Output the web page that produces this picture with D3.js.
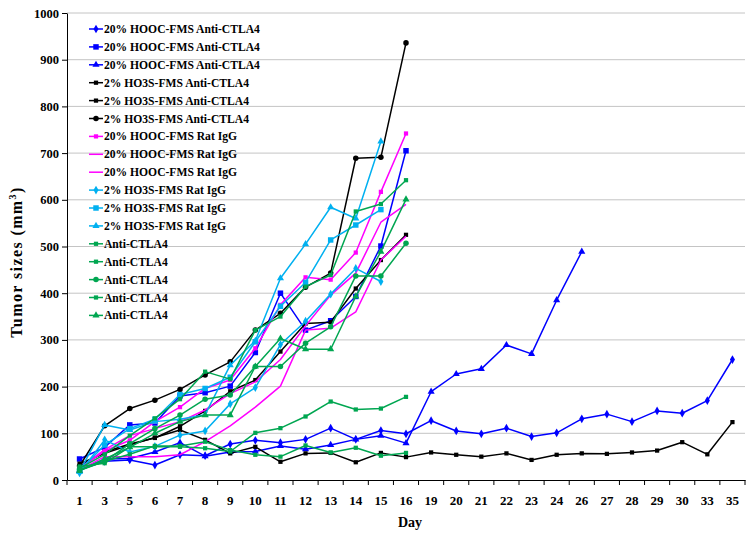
<!DOCTYPE html>
<html>
<head>
<meta charset="utf-8">
<script src="https://cdn.jsdelivr.net/npm/d3@7"></script>
<style>
  body { margin: 0; background: #fff; }
  svg text { font-family: "Liberation Serif", "Times New Roman", serif; font-weight: bold; fill: #000; }
</style>
</head>
<body>
<svg id="chart" width="754" height="538"></svg>
<script>
// x categories (days)
const days = [1, 3, 5, 6, 7, 8, 9, 10, 11, 12, 13, 14, 15, 16, 19, 20, 21, 22, 23, 24, 26, 27, 28, 29, 30, 33, 35];

// tumor sizes (mm3), one array per mouse, starting at day 1
const hoocAnti1 = [22, 40, 43, 32, 54, 52, 77, 85, 80, 87, 111, 87, 106, 99, 127, 105, 99, 111, 93, 101, 131, 141, 125, 148, 143, 170, 258];
const hoocAnti2 = [45, 70, 118, 122, 180, 187, 201, 273, 400, 321, 341, 393, 501, 705];
const hoocAnti3 = [20, 45, 46, 60, 80, 51, 60, 61, 73, 66, 75, 87, 95, 79, 189, 227, 238, 289, 270, 385, 489];
const ho3sAnti1 = [35, 57, 75, 91, 107, 86, 57, 71, 39, 57, 58, 38, 58, 49, 59, 54, 50, 57, 43, 54, 57, 56, 59, 63, 81, 55, 124];
const ho3sAnti2 = [30, 60, 77, 90, 115, 148, 190, 214, 275, 335, 338, 410, 471, 525];
const ho3sAnti3 = [30, 116, 153, 171, 194, 225, 253, 321, 357, 413, 443, 689, 691, 936];
const hoocRat1 = [25, 62, 85, 125, 156, 196, 214, 282, 375, 434, 429, 487, 617, 742];
const hoocRat2 = [25, 65, 95, 110, 125, 150, 185, 210, 258, 330, 396, 443, 552, 590];
const hoocRat3 = [21, 50, 50, 50, 54, 82, 116, 156, 201, 321, 325, 360, 471, 522];
const ho3sRat1 = [15, 86, 60, 72, 96, 105, 163, 198, 290, 340, 398, 453, 425];
const ho3sRat2 = [20, 75, 110, 130, 183, 196, 220, 296, 372, 423, 514, 546, 579];
const ho3sRat3 = [18, 118, 107, 125, 130, 140, 246, 298, 432, 505, 584, 560, 725];
const ctla1 = [25, 55, 95, 132, 173, 232, 216, 321, 350, 414, 439, 575, 591, 642];
const ctla2 = [29, 36, 71, 71, 71, 68, 61, 101, 111, 136, 168, 151, 153, 178];
const ctla3 = [22, 40, 78, 110, 139, 173, 182, 243, 243, 293, 328, 437, 437, 507];
const ctla4 = [20, 40, 55, 73, 73, 82, 64, 54, 50, 74, 59, 69, 52, 58];
const ctla5 = [20, 45, 70, 100, 125, 139, 139, 243, 303, 280, 280, 393, 489, 601];

const seriesNames = [
  '20% HOOC-FMS Anti-CTLA4', '20% HOOC-FMS Anti-CTLA4', '20% HOOC-FMS Anti-CTLA4',
  '2% HO3S-FMS Anti-CTLA4', '2% HO3S-FMS Anti-CTLA4', '2% HO3S-FMS Anti-CTLA4',
  '20% HOOC-FMS Rat IgG', '20% HOOC-FMS Rat IgG', '20% HOOC-FMS Rat IgG',
  '2% HO3S-FMS Rat IgG', '2% HO3S-FMS Rat IgG', '2% HO3S-FMS Rat IgG',
  'Anti-CTLA4', 'Anti-CTLA4', 'Anti-CTLA4', 'Anti-CTLA4', 'Anti-CTLA4'
];
const seriesValues = [
  hoocAnti1, hoocAnti2, hoocAnti3, ho3sAnti1, ho3sAnti2, ho3sAnti3,
  hoocRat1, hoocRat2, hoocRat3, ho3sRat1, ho3sRat2, ho3sRat3,
  ctla1, ctla2, ctla3, ctla4, ctla5
];
const seriesColors = [
  '#0000ff', '#0000ff', '#0000ff', '#000000', '#000000', '#000000',
  '#ff00ff', '#ff00ff', '#ff00ff', '#00b0f0', '#00b0f0', '#00b0f0',
  '#00a651', '#00a651', '#00a651', '#00a651', '#00a651'
];
const seriesMarkers = [
  'diamond', 'bigsquare', 'triangle', 'square', 'square', 'circle',
  'square', 'none', 'none', 'diamond', 'bigsquare', 'triangle',
  'square', 'square', 'circle', 'square', 'triangle'
];

const symbolTypes = {
  diamond: [d3.symbolDiamond, 22],
  square: [d3.symbolSquare, 18],
  bigsquare: [d3.symbolSquare, 30],
  triangle: [d3.symbolTriangle, 22],
  circle: [d3.symbolCircle, 24]
};

const svg = d3.select('#chart');
const plot = { left: 67, right: 745, top: 13, bottom: 480 };

const x = d3.scaleBand().domain(days).range([plot.left, plot.right]).padding(0);
const y = d3.scaleLinear().domain([0, 1000]).range([plot.bottom, plot.top]);
const cx = i => x(days[i]) + x.bandwidth() / 2;

// Gridlines
svg.append('g')
  .selectAll('line')
  .data(y.ticks(10).filter(d => d > 0))
  .join('line')
  .attr('x1', plot.left)
  .attr('x2', plot.right)
  .attr('y1', d => y(d))
  .attr('y2', d => y(d))
  .attr('stroke', '#c4c4c4')
  .attr('stroke-width', 1);

// Y axis
const yAxis = svg.append('g')
  .attr('transform', `translate(${plot.left},0)`)
  .call(d3.axisLeft(y).ticks(10).tickFormat(d3.format('d')).tickSize(5).tickSizeOuter(0).tickPadding(3));
yAxis.attr('font-family', null).attr('font-size', 12.5);
yAxis.selectAll('.tick line, .domain').attr('stroke', '#000');

// X axis: labels centred in each band, ticks on band edges
const xAxis = svg.append('g')
  .attr('transform', `translate(0,${plot.bottom})`)
  .call(d3.axisBottom(x).tickSize(0).tickSizeOuter(0).tickPadding(16));
xAxis.attr('font-family', null).attr('font-size', 13);
xAxis.select('.domain').attr('stroke', '#000');

svg.append('g')
  .selectAll('line')
  .data(d3.range(days.length + 1))
  .join('line')
  .attr('x1', i => x.range()[0] + i * x.step())
  .attr('x2', i => x.range()[0] + i * x.step())
  .attr('y1', plot.bottom)
  .attr('y2', plot.bottom + 5)
  .attr('stroke', '#000');

// Axis titles
svg.append('text')
  .attr('x', 410)
  .attr('y', 527)
  .attr('text-anchor', 'middle')
  .attr('font-size', 14)
  .text('Day');

const yTitle = svg.append('text')
  .attr('transform', 'translate(22,262) rotate(-90)')
  .attr('text-anchor', 'middle')
  .attr('font-size', 16)
  .attr('letter-spacing', 1.4);
yTitle.append('tspan').text('Tumor sizes (mm');
yTitle.append('tspan').attr('dy', -6).attr('font-size', 10).text('3');
yTitle.append('tspan').attr('dy', 6).text(')');

// Series lines and markers
const line = d3.line()
  .x((d, i) => cx(i))
  .y(d => y(d));

const drawMarker = (sel, kind, color) => {
  const [type, size] = symbolTypes[kind];
  sel.attr('d', d3.symbol().type(type).size(size)()).attr('fill', color);
};

seriesValues.forEach((values, s) => {
  const g = svg.append('g');
  g.append('path')
    .datum(values)
    .attr('d', line)
    .attr('fill', 'none')
    .attr('stroke', seriesColors[s])
    .attr('stroke-width', 1.5)
    .attr('stroke-linejoin', 'round');
  if (seriesMarkers[s] !== 'none') {
    g.selectAll('path.mk')
      .data(values)
      .join('path')
      .attr('class', 'mk')
      .attr('transform', (d, i) => `translate(${cx(i)},${y(d)})`)
      .call(drawMarker, seriesMarkers[s], seriesColors[s]);
  }
});

// Legend
const legend = svg.append('g').attr('transform', 'translate(89,29)');
seriesNames.forEach((name, s) => {
  const row = legend.append('g').attr('transform', `translate(0,${s * 17.9})`);
  row.append('line')
    .attr('x1', 0).attr('x2', 14)
    .attr('stroke', seriesColors[s])
    .attr('stroke-width', 1.5);
  if (seriesMarkers[s] !== 'none') {
    row.append('path')
      .attr('transform', 'translate(7,0)')
      .call(drawMarker, seriesMarkers[s], seriesColors[s]);
  }
  row.append('text')
    .attr('x', 15)
    .attr('dy', '0.35em')
    .attr('font-size', 11.6)
    .text(name);
});
</script>
</body>
</html>
